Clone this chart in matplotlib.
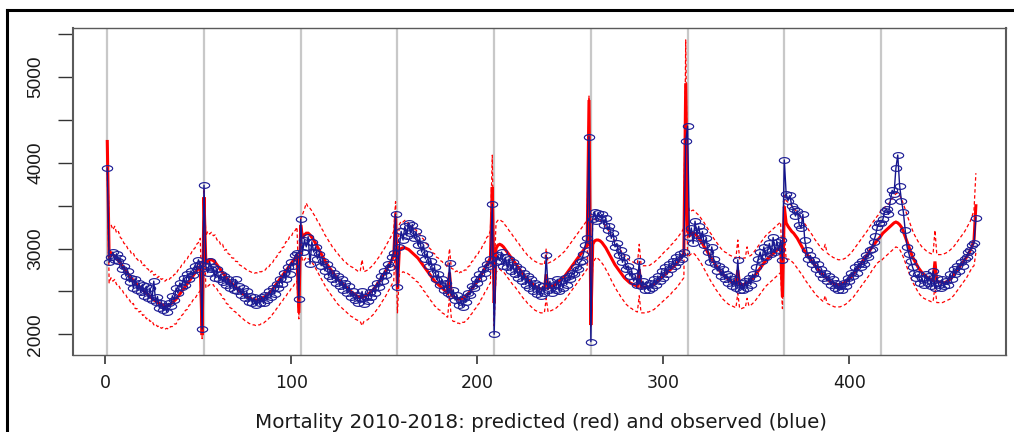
import numpy as np
import matplotlib
matplotlib.use("Agg")
import matplotlib.pyplot as plt
from matplotlib.path import Path
from matplotlib.lines import Line2D

# ---------------- data (weekly, 2010-2018) ----------------
observed = [
    # 2010
    3940, 2840, 2900, 2960, 2870, 2940, 2850, 2890, 2760, 2800,
    2680, 2740, 2610, 2660, 2540, 2650, 2520, 2600, 2490, 2580,
    2450, 2560, 2420, 2540, 2400, 2620, 2380, 2440, 2310, 2370,
    2280, 2330, 2260, 2360, 2330, 2450, 2400, 2540, 2480, 2600,
    2550, 2660, 2580, 2700, 2640, 2740, 2690, 2800, 2760, 2870, 2820, 2060,
    # 2011
    3740,
    2800, 2720, 2850, 2760, 2780, 2660, 2760, 2640, 2700, 2610,
    2680, 2580, 2650, 2540, 2610, 2520, 2640, 2500, 2560, 2460,
    2540, 2420, 2500, 2380, 2450, 2360, 2430, 2340, 2410, 2370,
    2440, 2360, 2460, 2400, 2500, 2430, 2540, 2470, 2590, 2540,
    2650, 2590, 2720, 2640, 2780, 2700, 2840, 2800, 2920, 2950,
    2410,
    # 2012
    3340,
    2960, 3100, 3020, 3140, 2820, 3080, 2960, 3020, 2880, 2940,
    2800, 2860, 2740, 2820, 2680, 2760, 2640, 2720, 2600, 2680,
    2560, 2640, 2520, 2600, 2480, 2560, 2440, 2500, 2400, 2460,
    2370, 2420, 2500, 2350, 2440, 2390, 2490, 2430, 2540, 2480,
    2600, 2550, 2680, 2620, 2740, 2690, 2820, 2780, 2900, 2950,
    3400,
    # 2013
    2555,
    3020, 3200, 3100, 3260, 3150, 3300, 3180, 3280, 3120, 3200,
    3040, 3120, 2960, 3040, 2880, 2940, 2800, 2860, 2720, 2780,
    2640, 2700, 2580, 2640, 2520, 2600, 2480, 2830, 2460, 2520,
    2400, 2460, 2340, 2400, 2320, 2420, 2380, 2480, 2460, 2560,
    2540, 2640, 2600, 2700, 2660, 2760, 2720, 2820, 2800, 2880,
    3520,
    # 2014
    2000,
    2840, 2920, 2860, 2960, 2800, 2900, 2780, 2880, 2740, 2840,
    2700, 2800, 2660, 2760, 2620, 2720, 2580, 2680, 2540, 2640,
    2500, 2600, 2470, 2580, 2450, 2560, 2480, 2925, 2520, 2620,
    2480, 2580, 2520, 2640, 2500, 2620, 2540, 2660, 2580, 2680,
    2640, 2720, 2700, 2780, 2760, 2840, 2860, 2940, 3040, 3120,
    4306,
    # 2015
    1914,
    3350, 3430, 3320, 3420, 3360, 3400, 3280, 3360, 3220, 3260,
    3120, 3180, 3020, 3060, 2920, 2980, 2840, 2900, 2760, 2800,
    2680, 2740, 2620, 2680, 2580, 2850, 2560, 2620, 2520, 2580,
    2520, 2600, 2540, 2640, 2580, 2680, 2620, 2740, 2660, 2780,
    2700, 2820, 2760, 2860, 2800, 2900, 2840, 2940, 2880, 2960,
    4250,
    # 2016
    4430,
    3140, 3240, 3060, 3320, 3160, 3260, 3120, 3200, 3040, 3120,
    2960, 2840, 3020, 2880, 2820, 2740, 2800, 2680, 2760, 2640,
    2700, 2600, 2680, 2560, 2640, 2540, 2870, 2520, 2600, 2520,
    2620, 2540, 2660, 2580, 2700, 2660, 2780, 2880, 2960, 2860,
    3020, 2900, 2980, 3060, 2940, 3130, 2960, 3080, 2980, 3100,
    2867,
    # 2017
    4034,
    3640, 3560, 3620, 3500, 3460, 3380, 3440, 3280, 3240, 3400,
    3100, 2980, 2880, 2920, 2820, 2870, 2760, 2820, 2700, 2760,
    2660, 2720, 2620, 2680, 2580, 2640, 2540, 2600, 2520, 2560,
    2520, 2600, 2560, 2660, 2620, 2720, 2680, 2780, 2720, 2820,
    2780, 2860, 2820, 2920, 2900, 2980, 3000, 3080, 3150, 3250,
    3300,
    # 2018
    3300,
    3340, 3440, 3460, 3400, 3560, 3680, 3640, 3937, 4092, 3735,
    3560, 3430, 3215, 3020, 2940, 2860, 2780, 2720, 2660, 2700,
    2600, 2660, 2580, 2700, 2600, 2680, 2560, 2740, 2540, 2660,
    2580, 2540, 2640, 2560, 2620, 2580, 2700, 2640, 2760, 2700,
    2800, 2740, 2840, 2800, 2880, 2900, 2960, 2980, 3040, 3060,
    3360,
]

predicted = [
    4250, 2900, 2950, 2930, 2910, 2890, 2860, 2830, 2800, 2770,
    2740, 2710, 2680, 2650, 2630, 2600, 2580, 2560, 2540, 2520,
    2500, 2480, 2460, 2440, 2420, 2400, 2390, 2370, 2360, 2350,
    2340, 2330, 2330, 2340, 2350, 2370, 2390, 2410, 2440, 2470,
    2500, 2530, 2560, 2590, 2620, 2650, 2680, 2710, 2740, 2770, 2800, 1990,
    3600,
    2820, 2850, 2870, 2870, 2860, 2840, 2810, 2780, 2750, 2720,
    2690, 2660, 2640, 2610, 2590, 2570, 2550, 2530, 2510, 2490,
    2470, 2460, 2440, 2430, 2420, 2410, 2400, 2400, 2400, 2410,
    2420, 2430, 2440, 2460, 2480, 2500, 2530, 2560, 2590, 2620,
    2650, 2680, 2710, 2740, 2770, 2800, 2830, 2860, 2890, 2920,
    2250,
    3275,
    3120, 3160, 3180, 3180, 3160, 3130, 3100, 3060, 3020, 2980,
    2940, 2900, 2860, 2820, 2790, 2760, 2730, 2700, 2670, 2640,
    2620, 2600, 2580, 2560, 2540, 2520, 2500, 2480, 2470, 2450,
    2440, 2430, 2430, 2440, 2450, 2460, 2480, 2500, 2520, 2550,
    2580, 2610, 2640, 2680, 2710, 2750, 2790, 2830, 2870, 2910,
    3380,
    2530,
    2980, 3000, 3010, 3010, 3000, 2990, 2970, 2950, 2930, 2910,
    2890, 2860, 2830, 2800, 2770, 2740, 2710, 2680, 2650, 2620,
    2600, 2580, 2560, 2540, 2520, 2500, 2480, 2720, 2460, 2440,
    2430, 2420, 2410, 2410, 2420, 2430, 2450, 2470, 2500, 2530,
    2560, 2590, 2620, 2650, 2690, 2730, 2770, 2810, 2850, 2890,
    3720,
    2365,
    3000, 3040, 3050, 3040, 3020, 2990, 2960, 2930, 2900, 2870,
    2840, 2810, 2780, 2750, 2720, 2690, 2660, 2640, 2620, 2600,
    2580, 2560, 2550, 2540, 2530, 2530, 2530, 2700, 2540, 2550,
    2560, 2570, 2580, 2600, 2620, 2640, 2660, 2680, 2710, 2740,
    2770, 2800, 2830, 2860, 2890, 2920, 2950, 2980, 3010, 3040,
    4734,
    2108,
    3050, 3090, 3100, 3100, 3090, 3070, 3040, 3010, 2970, 2930,
    2890, 2850, 2810, 2780, 2750, 2720, 2690, 2660, 2640, 2620,
    2600, 2590, 2580, 2570, 2560, 2760, 2550, 2550, 2550, 2550,
    2550, 2560, 2570, 2580, 2600, 2620, 2640, 2660, 2680, 2700,
    2720, 2740, 2760, 2780, 2800, 2820, 2850, 2880, 2910, 2950,
    4930,
    3200,
    3150, 3170, 3180, 3170, 3150, 3120, 3090, 3060, 3020, 2990,
    2950, 2910, 2880, 2850, 2810, 2780, 2750, 2720, 2700, 2680,
    2660, 2640, 2620, 2610, 2600, 2590, 2750, 2580, 2580, 2580,
    2590, 2600, 2610, 2630, 2650, 2680, 2710, 2740, 2770, 2800,
    2830, 2860, 2880, 2900, 2920, 2940, 2960, 2980, 3000, 3020,
    2440,
    3490,
    3300, 3260, 3230, 3200, 3180, 3150, 3120, 3080, 3040, 3000,
    2970, 2940, 2910, 2880, 2850, 2820, 2790, 2760, 2740, 2710,
    2690, 2670, 2650, 2630, 2610, 2600, 2590, 2580, 2580, 2580,
    2590, 2600, 2610, 2630, 2650, 2670, 2700, 2730, 2760, 2790,
    2820, 2850, 2880, 2910, 2940, 2980, 3010, 3040, 3070, 3100,
    3120,
    3150,
    3180, 3200, 3220, 3240, 3260, 3280, 3300, 3310, 3300, 3280,
    3250, 3200, 3140, 3080, 3020, 2960, 2900, 2860, 2820, 2780,
    2750, 2720, 2700, 2680, 2660, 2650, 2640, 2630, 2850, 2620,
    2610, 2610, 2600, 2600, 2610, 2620, 2640, 2660, 2690, 2720,
    2750, 2780, 2810, 2840, 2870, 2900, 2940, 2980, 3030, 3100,
    3500,
]

upper = [
    4260, 3250, 3280, 3220, 3260, 3180, 3200, 3130, 3110, 3060,
    3050, 3000, 2990, 2940, 2950, 2890, 2880, 2850, 2860, 2800,
    2810, 2770, 2760, 2720, 2740, 2690, 2700, 2660, 2680, 2640,
    2650, 2620, 2640, 2630, 2660, 2660, 2700, 2700, 2750, 2760,
    2810, 2820, 2870, 2880, 2930, 2940, 2990, 3000, 3050, 3070, 3120, 2300,
    3700,
    3150, 3200, 3170, 3190, 3150, 3160, 3100, 3100, 3040, 3050,
    2980, 2990, 2940, 2930, 2890, 2890, 2850, 2850, 2810, 2800,
    2780, 2770, 2750, 2740, 2730, 2720, 2710, 2720, 2710, 2730,
    2730, 2750, 2750, 2790, 2790, 2830, 2840, 2890, 2900, 2950,
    2960, 3010, 3020, 3080, 3080, 3140, 3140, 3200, 3210, 3250,
    2550,
    3350,
    3400, 3460, 3530, 3480, 3470, 3440, 3400, 3370, 3320, 3290,
    3240, 3210, 3160, 3130, 3090, 3060, 3020, 3000, 2960, 2940,
    2910, 2890, 2860, 2850, 2820, 2810, 2790, 2780, 2760, 2750,
    2730, 2740, 2870, 2730, 2740, 2750, 2770, 2790, 2810, 2840,
    2870, 2900, 2930, 2970, 3000, 3040, 3080, 3120, 3160, 3200,
    3548,
    2830,
    3280, 3320, 3310, 3330, 3300, 3300, 3260, 3260, 3220, 3220,
    3180, 3170, 3130, 3110, 3070, 3050, 3010, 2990, 2950, 2940,
    2900, 2890, 2860, 2850, 2820, 2810, 2780, 3000, 2770, 2760,
    2730, 2740, 2710, 2730, 2720, 2750, 2750, 2790, 2800, 2850,
    2860, 2910, 2920, 2970, 2990, 3050, 3070, 3130, 3150, 3210,
    4090,
    2650,
    3300, 3330, 3340, 3320, 3310, 3270, 3250, 3210, 3190, 3150,
    3130, 3090, 3070, 3030, 3010, 2970, 2950, 2920, 2910, 2880,
    2870, 2850, 2840, 2830, 2820, 2820, 2810, 3000, 2830, 2840,
    2850, 2860, 2880, 2890, 2910, 2930, 2950, 2970, 3000, 3030,
    3060, 3090, 3120, 3150, 3180, 3210, 3240, 3270, 3300, 3330,
    4780,
    2400,
    3320, 3340, 3350, 3340, 3330, 3310, 3290, 3260, 3230, 3190,
    3150, 3110, 3080, 3040, 3010, 2980, 2950, 2920, 2900, 2880,
    2860, 2850, 2840, 2830, 2820, 3050, 2810, 2800, 2800, 2800,
    2800, 2810, 2830, 2840, 2860, 2880, 2900, 2920, 2950, 2970,
    2990, 3010, 3040, 3060, 3090, 3110, 3140, 3170, 3200, 3240,
    5435,
    3550,
    3430, 3440, 3450, 3430, 3410, 3390, 3360, 3330, 3300, 3260,
    3230, 3190, 3160, 3120, 3090, 3060, 3030, 3000, 2980, 2960,
    2950, 2930, 2920, 2910, 2900, 2890, 3100, 2880, 2880, 2890,
    2890, 3020, 2910, 2920, 2940, 2970, 3000, 3030, 3060, 3090,
    3120, 3150, 3170, 3190, 3210, 3230, 3250, 3270, 3290, 3310,
    2750,
    3620,
    3560, 3540, 3520, 3500, 3480, 3450, 3420, 3390, 3360, 3330,
    3290, 3260, 3220, 3190, 3160, 3120, 3090, 3060, 3030, 3000,
    2980, 3050, 2950, 2930, 2920, 2900, 2890, 2880, 2870, 2870,
    2870, 2880, 2890, 2910, 2930, 2950, 2980, 3010, 3040, 3070,
    3100, 3130, 3160, 3190, 3220, 3260, 3290, 3320, 3350, 3380,
    3400,
    3450,
    3470, 3480, 3500, 3520, 3550, 3580, 3610, 3640, 3650, 3620,
    3580, 3520, 3460, 3390, 3330, 3270, 3210, 3160, 3120, 3080,
    3050, 3020, 3000, 2980, 2960, 2950, 2940, 2940, 3215, 2930,
    2930, 2930, 2930, 2940, 2950, 2960, 2980, 3000, 3020, 3050,
    3080, 3110, 3140, 3170, 3200, 3240, 3280, 3320, 3380, 3450,
    3880,
]

lower = [
    3900, 2600, 2660, 2620, 2640, 2580, 2580, 2530, 2520, 2470,
    2460, 2410, 2400, 2350, 2360, 2300, 2300, 2260, 2270, 2220,
    2230, 2180, 2190, 2150, 2160, 2110, 2120, 2090, 2100, 2070,
    2080, 2060, 2070, 2060, 2090, 2090, 2120, 2120, 2170, 2180,
    2220, 2240, 2280, 2290, 2340, 2350, 2400, 2410, 2450, 2480, 2510, 1950,
    3300,
    2540, 2560, 2580, 2570, 2580, 2540, 2530, 2480, 2470, 2420,
    2410, 2360, 2350, 2310, 2300, 2270, 2260, 2230, 2220, 2190,
    2180, 2160, 2150, 2130, 2120, 2110, 2110, 2100, 2110, 2110,
    2130, 2130, 2150, 2160, 2190, 2200, 2240, 2260, 2300, 2320,
    2360, 2380, 2420, 2440, 2480, 2500, 2540, 2560, 2600, 2620,
    2180,
    2980,
    2850, 2870, 2900, 2880, 2870, 2840, 2810, 2770, 2730, 2690,
    2650, 2610, 2570, 2530, 2500, 2470, 2440, 2410, 2380, 2350,
    2330, 2310, 2290, 2270, 2250, 2230, 2210, 2200, 2180, 2170,
    2160, 2150, 2100, 2150, 2160, 2170, 2190, 2210, 2230, 2260,
    2290, 2320, 2350, 2390, 2420, 2460, 2500, 2540, 2580, 2620,
    3100,
    2250,
    2700, 2710, 2730, 2720, 2720, 2700, 2690, 2660, 2650, 2620,
    2610, 2570, 2550, 2510, 2490, 2450, 2430, 2390, 2370, 2330,
    2320, 2290, 2280, 2250, 2240, 2210, 2200, 2450, 2180, 2150,
    2150, 2130, 2130, 2120, 2140, 2140, 2170, 2180, 2220, 2240,
    2280, 2300, 2340, 2360, 2410, 2440, 2490, 2520, 2570, 2600,
    3400,
    2100,
    2720, 2750, 2760, 2740, 2730, 2700, 2670, 2640, 2610, 2580,
    2560, 2530, 2500, 2470, 2440, 2410, 2390, 2360, 2340, 2320,
    2300, 2280, 2270, 2260, 2250, 2250, 2250, 2420, 2260, 2270,
    2280, 2290, 2300, 2320, 2340, 2360, 2380, 2400, 2430, 2460,
    2490, 2520, 2550, 2580, 2610, 2640, 2670, 2700, 2730, 2760,
    4500,
    2080,
    2820, 2870, 2900, 2880, 2860, 2830, 2800, 2760, 2720, 2680,
    2630, 2590, 2550, 2510, 2480, 2440, 2410, 2380, 2350, 2330,
    2310, 2300, 2280, 2270, 2260, 2450, 2250, 2250, 2250, 2260,
    2260, 2270, 2280, 2290, 2310, 2330, 2350, 2370, 2390, 2410,
    2430, 2450, 2470, 2500, 2520, 2540, 2570, 2600, 2630, 2660,
    4500,
    2900,
    2920, 2940, 2950, 2930, 2900, 2870, 2840, 2800, 2760, 2720,
    2680, 2640, 2600, 2570, 2530, 2500, 2470, 2440, 2410, 2390,
    2370, 2350, 2340, 2330, 2320, 2310, 2480, 2300, 2300, 2310,
    2310, 2420, 2330, 2340, 2360, 2380, 2410, 2440, 2470, 2500,
    2530, 2560, 2580, 2600, 2620, 2640, 2660, 2680, 2700, 2720,
    2300,
    3200,
    2870, 2880, 2870, 2850, 2830, 2800, 2770, 2740, 2710, 2680,
    2640, 2610, 2580, 2550, 2520, 2490, 2460, 2440, 2420, 2400,
    2380, 2450, 2360, 2350, 2340, 2330, 2320, 2320, 2320, 2320,
    2330, 2340, 2350, 2370, 2390, 2410, 2430, 2460, 2490, 2520,
    2550, 2580, 2610, 2640, 2670, 2700, 2740, 2770, 2800, 2830,
    2850,
    2850,
    2880, 2900, 2920, 2940, 2960, 2980, 3000, 3020, 3010, 2990,
    2950, 2900, 2840, 2780, 2720, 2660, 2610, 2570, 2530, 2490,
    2460, 2440, 2420, 2410, 2400, 2390, 2380, 2380, 2560, 2370,
    2370, 2370, 2370, 2380, 2390, 2400, 2410, 2430, 2450, 2480,
    2510, 2540, 2570, 2600, 2630, 2660, 2700, 2740, 2780, 2800,
    2950,
]

year_starts = [1, 53, 105, 157, 209, 261, 313, 365, 417]
x_ticks = [0, 100, 200, 300, 400]
y_ticks = [2000, 2500, 3000, 3500, 4000, 4500, 5000, 5500]
y_tick_labels = ["2000", "", "3000", "", "4000", "", "5000", ""]
x_title = "Mortality 2010-2018: predicted (red) and observed (blue)"

# ---------------- figure ----------------
W, H = 1014, 432
fig = plt.figure(figsize=(W / 100, H / 100), dpi=100)
fig.patch.set_facecolor("white")

L, R, T, B = 72.5, 1006.0, 28.0, 355.3
ax = fig.add_axes([L / W, 1 - B / H, (R - L) / W, (B - T) / H])
ax.set_xlim(-17.7, 484.2)
ax.set_ylim(1755, 5574)

RED = "#ff0000"
BLUE = "#14148c"

for ys in year_starts:
    ax.axvline(ys, color="#c8c8c8", lw=1.6, zorder=0.5)

def xs(series):
    return np.arange(1, len(series) + 1)

ax.plot(xs(upper), upper, color=RED, lw=0.9, dashes=(2.8, 2.0), zorder=2)
ax.plot(xs(lower), lower, color=RED, lw=0.9, dashes=(2.8, 2.0), zorder=2)
ax.plot(xs(predicted), predicted, color=RED, lw=2.2, zorder=3,
        solid_joinstyle="miter")

theta = np.linspace(0, 2 * np.pi, 64)
ellipse = Path(np.column_stack([np.cos(theta), 0.56 * np.sin(theta)]), closed=True)
ax.plot(xs(observed), observed, color=BLUE, lw=1.0, zorder=4,
        marker=ellipse, markersize=7.4, markerfacecolor="none",
        markeredgecolor="#1e1e96", markeredgewidth=0.85)

# axes styling
for side in ["left", "right"]:
    ax.spines[side].set_linewidth(1.5)
    ax.spines[side].set_color("#5a5a5a")
for side in ["top", "bottom"]:
    ax.spines[side].set_linewidth(1.0)
    ax.spines[side].set_color("#5a5a5a")

ax.set_xticks(x_ticks)
ax.set_xticklabels([str(v) for v in x_ticks], fontsize=12.5,
                   family="DejaVu Sans", color="#1a1a1a")
ax.set_yticks(y_ticks)
ax.set_yticklabels(y_tick_labels, rotation=90, va="center",
                   family=["Liberation Sans Narrow", "Liberation Sans"],
                   fontsize=13.8, color="#1a1a1a")
ax.tick_params(axis="x", length=6.8, width=1.2, color="#333333", pad=7)
ax.tick_params(axis="y", length=10.8, width=1.0, color="#333333", pad=9.5)

# x title, fitted to the reference width
t = fig.text(541.4 / W, 1 - 427.7 / H, x_title, ha="center", va="baseline",
             fontsize=12, family="DejaVu Sans", color="#1a1a1a")
fig.canvas.draw()
w = t.get_window_extent().width
t.set_fontsize(12 * 569.0 / w)

# outer frame (left and top edges visible)
fig.add_artist(Line2D([7 / W, 7 / W], [0, 1 - 10 / H], transform=fig.transFigure,
                      color="black", lw=2.2))
fig.add_artist(Line2D([7 / W, 1], [1 - 10 / H, 1 - 10 / H], transform=fig.transFigure,
                      color="black", lw=2.2))

fig.savefig("out.png", dpi=100, facecolor="white")
